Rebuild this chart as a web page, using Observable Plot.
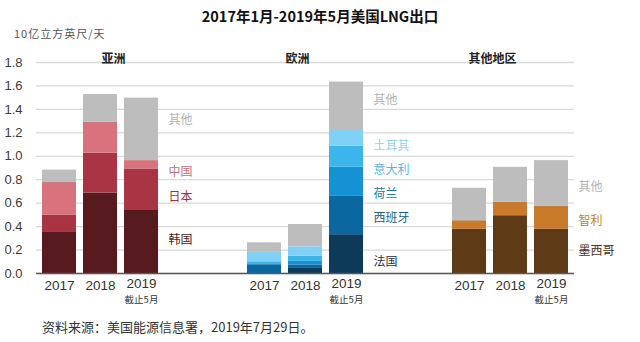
<!DOCTYPE html>
<html><head><meta charset="utf-8">
<script src="https://cdn.jsdelivr.net/npm/d3@7"></script>
<script src="https://cdn.jsdelivr.net/npm/@observablehq/plot@0.6"></script>
<style>
body{margin:0;background:#fff;width:640px;height:342px;overflow:hidden;font-family:"Liberation Sans","Noto Sans CJK SC",sans-serif;color:#222;}
#title{height:20px;line-height:20px;padding-top:6px;text-align:center;font-family:"Noto Sans CJK SC","Liberation Sans",sans-serif;font-weight:bold;font-size:14.5px;color:#111;}
#unit{height:14px;line-height:14px;padding-left:14px;font-family:"Noto Sans CJK SC",sans-serif;font-size:11px;letter-spacing:1px;color:#555;}
#chart svg{display:block;}
#caption{margin-top:9px;padding-left:42px;line-height:16px;font-family:"Noto Sans CJK SC","Liberation Sans",sans-serif;font-size:13px;color:#333;}
</style></head><body>
<div id="title">2017年1月-2019年5月美国LNG出口</div>
<div id="unit">10亿立方英尺/天</div>
<div id="chart"></div>
<div id="caption">资料来源：美国能源信息署，2019年7月29日。</div>
<script>
// ---- data ----
const years = ["2017", "2018", "2019"];
const regions = ["亚洲", "欧洲", "其他地区"];
const yTicks = [0, 0.2, 0.4, 0.6, 0.8, 1.0, 1.2, 1.4, 1.6, 1.8];

const asiaSeries = ["韩国", "日本", "中国", "其他"];
const asiaKorea = [0.35, 0.687, 0.544];
const asiaJapan = [0.146, 0.339, 0.348];
const asiaChina = [0.28, 0.264, 0.071];
const asiaOther = [0.106, 0.237, 0.533];

const europeSeries = ["法国", "西班牙", "荷兰", "意大利", "土耳其", "其他"];
const euFrance = [0, 0.043, 0.331];
const euSpain = [0.075, 0.03, 0.327];
const euNetherlands = [0, 0.03, 0.248];
const euItaly = [0.025, 0.045, 0.18];
const euTurkey = [0.08, 0.08, 0.134];
const euOther = [0.082, 0.19, 0.413];

const otherSeries = ["墨西哥", "智利", "其他"];
const otMexico = [0.379, 0.493, 0.379];
const otChile = [0.071, 0.114, 0.194];
const otOther = [0.277, 0.299, 0.39];

// ---- styles ----
const asiaColors = ["#561a1f", "#a93444", "#d8737d", "#bdbdbd"];
const europeColors = ["#0d3a58", "#0b67a0", "#1592d4", "#3bb5ea", "#80d1f6", "#bdbdbd"];
const otherColors = ["#5e3a17", "#c97a2a", "#bdbdbd"];
const asiaLabelColors = ["#4a2024", "#9a3040", "#c46f78", "#b3b3b3"];
const europeLabelColors = ["#1d3344", "#1b5f7e", "#257f9e", "#5ab6de", "#8fd2f2", "#b3b3b3"];
const otherLabelColors = ["#4a3222", "#c0852f", "#b3b3b3"];
const asiaNudge = [0.013, -0.068, -0.065, 0.075];
const europeNudge = [-0.066, -0.021, -0.103, -0.112, -0.07, 0.049];
const otherNudge = [0.004, -0.026, -0.033];
const regionDx = [13, -8, -18];

const groups = [
  {region: regions[0], series: asiaSeries, values: [asiaKorea, asiaJapan, asiaChina, asiaOther], colors: asiaColors, labelColors: asiaLabelColors, nudge: asiaNudge},
  {region: regions[1], series: europeSeries, values: [euFrance, euSpain, euNetherlands, euItaly, euTurkey, euOther], colors: europeColors, labelColors: europeLabelColors, nudge: europeNudge},
  {region: regions[2], series: otherSeries, values: [otMexico, otChile, otOther], colors: otherColors, labelColors: otherLabelColors, nudge: otherNudge}
];

const keyOf = (r, y) => r + "|" + y;
const xDomain = [
  ...years.map(y => keyOf(regions[0], y)), "_g1", "_g2",
  ...years.map(y => keyOf(regions[1], y)), "_g3", "_g4",
  ...years.map(y => keyOf(regions[2], y))
];

const rows = [];
const labelRows = [];
for (const g of groups) {
  years.forEach((yr, yi) => {
    g.series.forEach((s, si) => {
      rows.push({key: keyOf(g.region, yr), series: g.region + "-" + s, value: g.values[si][yi], color: g.colors[si]});
    });
  });
  let cum = 0;
  g.series.forEach((s, si) => {
    const v = g.values[si][2];
    labelRows.push({key: keyOf(g.region, "2019"), text: s, y: cum + v / 2 + g.nudge[si], color: g.labelColors[si]});
    cum += v;
  });
}
const yearRows = regions.flatMap(r => years.map(y => ({key: keyOf(r, y), year: y})));

const chart = Plot.plot({
  width: 640, height: 270,
  marginLeft: 36, marginRight: 66, marginTop: 22, marginBottom: 37,
  style: {fontFamily: '"Liberation Sans","Noto Sans CJK SC",sans-serif', background: "white"},
  x: {domain: xDomain, paddingInner: 0.18, paddingOuter: 0.09, axis: null},
  y: {domain: [0, 1.8], axis: null},
  color: {type: "identity"},
  marks: [
    Plot.gridY(yTicks, {stroke: "#d9d9d9", strokeOpacity: 1, strokeWidth: 1.3}),
    Plot.axisY(yTicks, {tickSize: 0, tickPadding: 14, tickFormat: d3.format(".1f"), fontSize: 13, fill: "#3a3a3a"}),
    Plot.barY(rows, {x: "key", y: "value", z: "series", fill: "color"}),
    Plot.ruleY([0], {stroke: "#595959", strokeWidth: 1.5}),
    Plot.text(yearRows.filter(d => d.year !== "2019"), {x: "key", text: "year", frameAnchor: "bottom", dy: 16, fontSize: 13.5, fill: "#333"}),
    Plot.text(yearRows.filter(d => d.year === "2019"), {x: "key", text: "year", frameAnchor: "bottom", dy: 14, fontSize: 13.5, fill: "#333"}),
    Plot.text(yearRows.filter(d => d.year === "2019"), {x: "key", text: () => "截止5月", frameAnchor: "bottom", dy: 29, fontSize: 9.5, fill: "#333", fontFamily: '"Noto Sans CJK SC",sans-serif'}),
    ...regions.map((r, i) => Plot.text([r], {x: d => keyOf(d, "2018"), text: d => d, frameAnchor: "top", dy: -8, dx: regionDx[i], fontSize: 12, fontWeight: "bold", fill: "#222", fontFamily: '"Noto Sans CJK SC",sans-serif'})),
    Plot.text(labelRows, {x: "key", y: "y", text: "text", fill: "color", textAnchor: "start", dx: 27, fontSize: 12, fontFamily: '"Noto Sans CJK SC",sans-serif', ariaLabel: "series-label"})
  ]
});
d3.select(chart).selectAll("g[aria-label='series-label'] text").style("letter-spacing", "1.5px");
document.getElementById("chart").appendChild(chart);
</script>
</body></html>
